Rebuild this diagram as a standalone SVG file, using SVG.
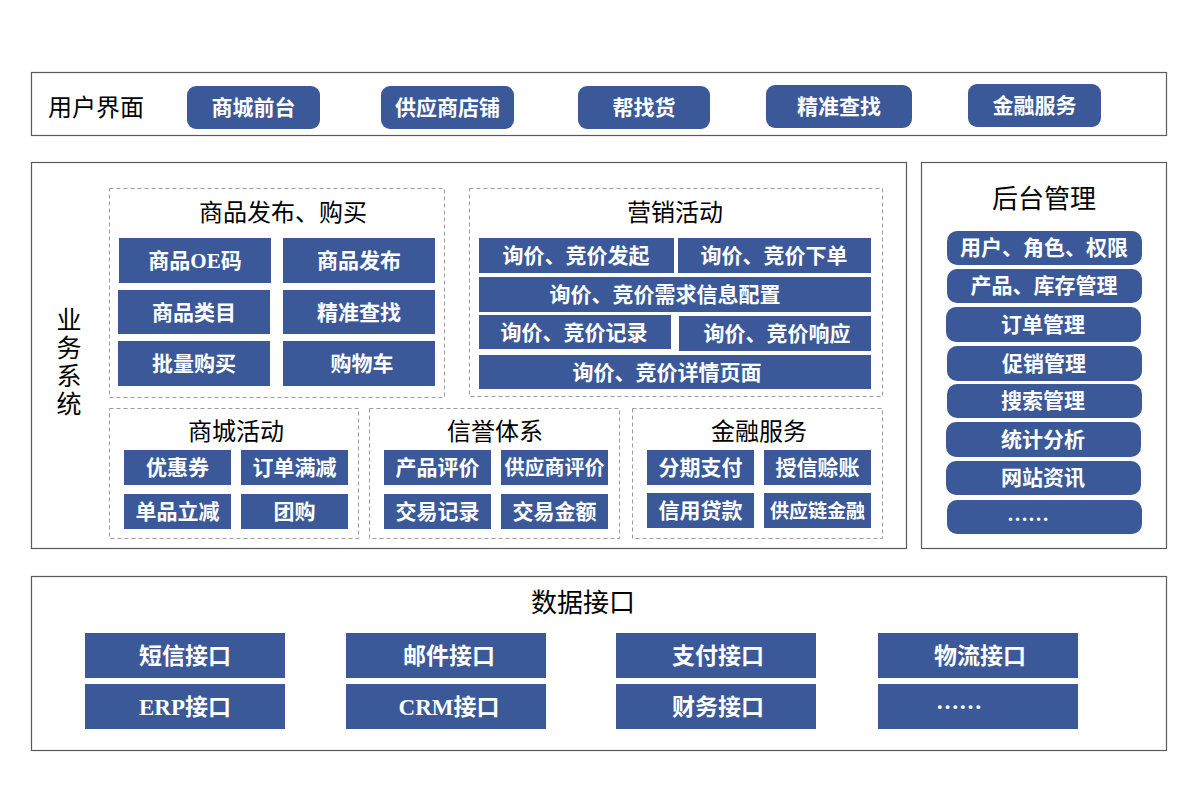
<svg xmlns="http://www.w3.org/2000/svg" width="1200" height="800" viewBox="0 0 1200 800">
<style>
text{font-family:"Liberation Serif","Noto Sans CJK SC",sans-serif;dominant-baseline:central;text-anchor:middle}
.panel{fill:#fff;stroke:#595959;stroke-width:1.2}
.grp{fill:none;stroke:#9a9a9a;stroke-width:1;stroke-dasharray:4 3}
.b{fill:#3b5998}
.w{fill:#fff;font-size:21px;font-weight:bold}
.t{fill:#000;font-size:24px}
.big{fill:#000;font-size:26px}
</style>
<rect width="1200" height="800" fill="#fff"/>

<g id="user-ui">
<rect class="panel" x="31.5" y="72.5" width="1135" height="63"/>
<text class="t" x="96" y="108">用户界面</text>
<rect class="b" x="187" y="86" width="133" height="43" rx="9"/><text class="w" x="253.5" y="107.5">商城前台</text>
<rect class="b" x="381" y="86" width="133" height="43" rx="9"/><text class="w" x="447.5" y="107.5">供应商店铺</text>
<rect class="b" x="578" y="86" width="132" height="43" rx="9"/><text class="w" x="644" y="107.5">帮找货</text>
<rect class="b" x="766" y="85" width="146" height="43" rx="9"/><text class="w" x="839" y="106.5">精准查找</text>
<rect class="b" x="968" y="84" width="133" height="43" rx="9"/><text class="w" x="1034.5" y="105.5">金融服务</text>
</g>

<g id="business">
<rect class="panel" x="31.5" y="162.5" width="875" height="386"/>
<text class="t" style="font-size:25px" x="69" y="320">业</text>
<text class="t" style="font-size:25px" x="69" y="348">务</text>
<text class="t" style="font-size:25px" x="69" y="376">系</text>
<text class="t" style="font-size:25px" x="69" y="404">统</text>
</g>

<g id="goods">
<rect class="grp" x="109.5" y="188.5" width="335" height="209"/>
<text class="t" x="283" y="213">商品发布、购买</text>
<rect class="b" x="119" y="238" width="152" height="45"/><text class="w" x="195" y="261">商品OE码</text>
<rect class="b" x="283" y="238" width="152" height="45"/><text class="w" x="359" y="261">商品发布</text>
<rect class="b" x="118" y="290" width="152" height="44"/><text class="w" x="194" y="312.5">商品类目</text>
<rect class="b" x="283" y="290" width="152" height="44"/><text class="w" x="359" y="312.5">精准查找</text>
<rect class="b" x="118" y="341" width="152" height="45"/><text class="w" x="194" y="364">批量购买</text>
<rect class="b" x="283" y="341" width="152" height="45"/><text class="w" x="362" y="364">购物车</text>
</g>

<g id="marketing">
<rect class="grp" x="469.5" y="188.5" width="413" height="208"/>
<text class="t" x="675" y="213">营销活动</text>
<rect class="b" x="479" y="238" width="195" height="35"/><text class="w" x="576" y="256">询价、竞价发起</text>
<rect class="b" x="678" y="238" width="193" height="35"/><text class="w" x="774" y="256">询价、竞价下单</text>
<rect class="b" x="479" y="277" width="392" height="35"/><text class="w" x="665" y="295">询价、竞价需求信息配置</text>
<rect class="b" x="479" y="315" width="192" height="34"/><text class="w" x="574" y="332.5">询价、竞价记录</text>
<rect class="b" x="679" y="316" width="192" height="35"/><text class="w" x="777" y="334">询价、竞价响应</text>
<rect class="b" x="479" y="355" width="392" height="34"/><text class="w" x="667" y="372.5">询价、竞价详情页面</text>
</g>

<g id="mall-activity">
<rect class="grp" x="109.5" y="408.5" width="249" height="130"/>
<text class="t" x="236" y="432">商城活动</text>
<rect class="b" x="124" y="450" width="107" height="35"/><text class="w" x="177.5" y="468">优惠券</text>
<rect class="b" x="241" y="450" width="107" height="35"/><text class="w" x="294.5" y="468">订单满减</text>
<rect class="b" x="124" y="494" width="107" height="35"/><text class="w" x="177.5" y="512">单品立减</text>
<rect class="b" x="241" y="494" width="107" height="35"/><text class="w" x="294.5" y="512">团购</text>
</g>

<g id="credit">
<rect class="grp" x="369.5" y="408.5" width="250" height="130"/>
<text class="t" x="495" y="432">信誉体系</text>
<rect class="b" x="384" y="450" width="107" height="35"/><text class="w" x="437.5" y="468">产品评价</text>
<rect class="b" x="501" y="450" width="107" height="35"/><text class="w" style="font-size:20px" x="554.5" y="468">供应商评价</text>
<rect class="b" x="384" y="494" width="107" height="35"/><text class="w" x="437.5" y="512">交易记录</text>
<rect class="b" x="501" y="494" width="107" height="35"/><text class="w" x="554.5" y="512">交易金额</text>
</g>

<g id="finance">
<rect class="grp" x="632.5" y="408.5" width="250" height="130"/>
<text class="t" x="759" y="432">金融服务</text>
<rect class="b" x="647" y="450" width="107" height="35"/><text class="w" x="700.5" y="468">分期支付</text>
<rect class="b" x="764" y="450" width="107" height="35"/><text class="w" x="817.5" y="468">授信赊账</text>
<rect class="b" x="647" y="493" width="107" height="35"/><text class="w" x="700.5" y="511">信用贷款</text>
<rect class="b" x="764" y="493" width="107" height="35"/><text class="w" style="font-size:19px" x="817.5" y="511">供应链金融</text>
</g>

<g id="backend">
<rect class="panel" x="921.5" y="162.5" width="245" height="386"/>
<text class="big" x="1044" y="199">后台管理</text>
<rect class="b" x="947" y="231" width="195" height="34" rx="10"/><text class="w" x="1044" y="248">用户、角色、权限</text>
<rect class="b" x="947" y="269" width="195" height="34" rx="10"/><text class="w" x="1044" y="286">产品、库存管理</text>
<rect class="b" x="946" y="307" width="195" height="35" rx="10"/><text class="w" x="1043" y="324.5">订单管理</text>
<rect class="b" x="947" y="346" width="195" height="35" rx="10"/><text class="w" x="1044" y="363.5">促销管理</text>
<rect class="b" x="947" y="384" width="195" height="34" rx="10"/><text class="w" x="1043" y="401">搜索管理</text>
<rect class="b" x="946" y="422" width="195" height="35" rx="10"/><text class="w" x="1043" y="439.5">统计分析</text>
<rect class="b" x="946" y="461" width="195" height="34" rx="10"/><text class="w" x="1043" y="478">网站资讯</text>
<rect class="b" x="947" y="500" width="195" height="34" rx="10"/><text class="w" x="1028" y="514">……</text>
</g>

<g id="data-interface">
<rect class="panel" x="31.5" y="576.5" width="1135" height="174"/>
<text class="big" x="583" y="603">数据接口</text>
<rect class="b" x="85" y="633" width="200" height="45"/><text class="w" style="font-size:23px" x="185" y="656">短信接口</text>
<rect class="b" x="85" y="684" width="200" height="45"/><text class="w" style="font-size:23px" x="185" y="707">ERP接口</text>
<rect class="b" x="346" y="633" width="200" height="45"/><text class="w" style="font-size:23px" x="449" y="656">邮件接口</text>
<rect class="b" x="346" y="684" width="200" height="45"/><text class="w" style="font-size:23px" x="449" y="707">CRM接口</text>
<rect class="b" x="616" y="633" width="200" height="45"/><text class="w" style="font-size:23px" x="718" y="656">支付接口</text>
<rect class="b" x="616" y="684" width="200" height="45"/><text class="w" style="font-size:23px" x="718" y="707">财务接口</text>
<rect class="b" x="878" y="633" width="200" height="45"/><text class="w" style="font-size:23px" x="980" y="656">物流接口</text>
<rect class="b" x="878" y="684" width="200" height="45"/><text class="w" style="font-size:23px" x="959" y="701">……</text>
</g>
<g id="connectors"/>
</svg>
